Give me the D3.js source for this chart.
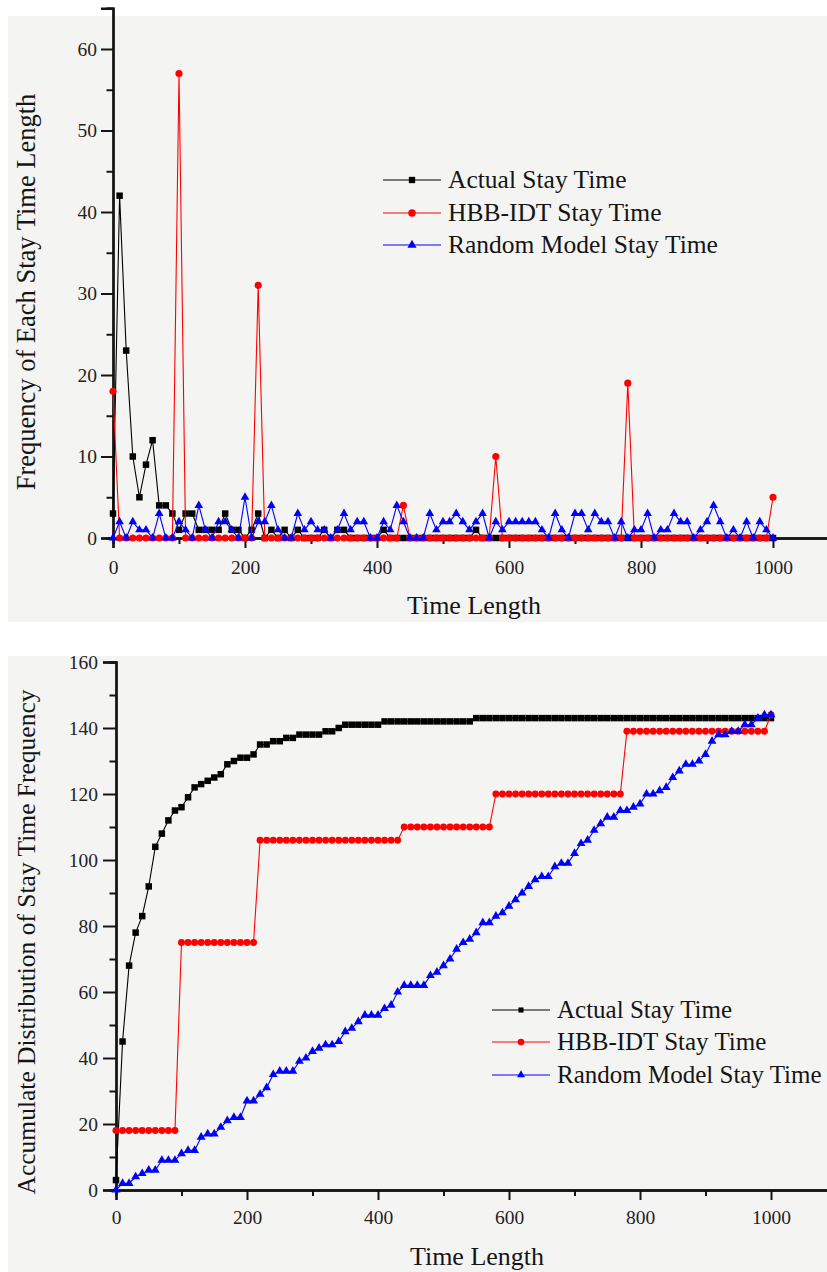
<!DOCTYPE html>
<html>
<head>
<meta charset="utf-8">
<script src="https://cdn.jsdelivr.net/npm/d3@7"></script>
<style>
  body { margin: 0; background: #fff; }
  svg { display: block; }
  svg text { font-family: "Liberation Serif", "DejaVu Serif", "Times New Roman", serif; }
</style>
</head>
<body>
<div id="chart-container"></div>
<script>
// Time lengths (x), one point every 10 units
const timeLength = d3.range(0, 1001, 10);

// Frequency of each stay time length
const actualFreq = [
  3, 42, 23, 10, 5, 9, 12, 4, 4, 3,      // 0-90
  1, 3, 3, 1, 1, 1, 1, 3, 1, 1,          // 100-190
  0, 1, 3, 0, 1, 0, 1, 0, 1, 0,          // 200-290
  0, 0, 1, 0, 1, 1, 0, 0, 0, 0,          // 300-390
  0, 1, 0, 0, 0, 0, 0, 0, 0, 0,          // 400-490
  0, 0, 0, 0, 0, 1, 0, 0, 0, 0,          // 500-590
  0, 0, 0, 0, 0, 0, 0, 0, 0, 0,          // 600-690
  0, 0, 0, 0, 0, 0, 0, 0, 0, 0,          // 700-790
  0, 0, 0, 0, 0, 0, 0, 0, 0, 0,          // 800-890
  0, 0, 0, 0, 0, 0, 0, 0, 0, 0,          // 900-990
  0                                      // 1000
];
const hbbFreq = [
  18, 0, 0, 0, 0, 0, 0, 0, 0, 0,
  57, 0, 0, 0, 0, 0, 0, 0, 0, 0,
  0, 0, 31, 0, 0, 0, 0, 0, 0, 0,
  0, 0, 0, 0, 0, 0, 0, 0, 0, 0,
  0, 0, 0, 0, 4, 0, 0, 0, 0, 0,
  0, 0, 0, 0, 0, 0, 0, 0, 10, 0,
  0, 0, 0, 0, 0, 0, 0, 0, 0, 0,
  0, 0, 0, 0, 0, 0, 0, 0, 19, 0,
  0, 0, 0, 0, 0, 0, 0, 0, 0, 0,
  0, 0, 0, 0, 0, 0, 0, 0, 0, 0,
  5
];
const randomFreq = [
  0, 2, 0, 2, 1, 1, 0, 3, 0, 0,
  2, 1, 0, 4, 1, 0, 2, 2, 1, 0,
  5, 0, 2, 2, 4, 1, 0, 0, 3, 1,
  2, 1, 1, 0, 1, 3, 1, 2, 2, 0,
  0, 2, 1, 4, 2, 0, 0, 0, 3, 1,
  2, 2, 3, 2, 1, 2, 3, 0, 2, 1,
  2, 2, 2, 2, 2, 1, 0, 3, 1, 0,
  3, 3, 1, 3, 2, 2, 0, 2, 0, 1,
  1, 3, 0, 1, 1, 3, 2, 2, 0, 1,
  2, 4, 2, 0, 1, 0, 2, 0, 2, 1,
  0
];

const seriesNames = ["Actual Stay Time", "HBB-IDT Stay Time", "Random Model Stay Time"];
const xMajorTicks = [0, 200, 400, 600, 800, 1000];
const xMinorTicks = [100, 300, 500, 700, 900, 1100];
const topYMajor = [0, 10, 20, 30, 40, 50, 60];
const topYMinor = [5, 15, 25, 35, 45, 55, 65];
const botYMajor = [0, 20, 40, 60, 80, 100, 120, 140, 160];
const botYMinor = [10, 30, 50, 70, 90, 110, 130, 150];

const W = 827, H = 1272;
const ink = "#151515";
const serif = "Liberation Serif, DejaVu Serif, serif";

const svg = d3.select("#chart-container")
  .append("svg")
  .attr("width", W)
  .attr("height", H)
  .attr("font-family", serif);

// faint paper background of the two panels
svg.append("rect").attr("x", 8).attr("y", 16).attr("width", W - 8).attr("height", 606).attr("fill", "#f4f4f2");
svg.append("rect").attr("x", 8).attr("y", 656).attr("width", W - 8).attr("height", H - 656).attr("fill", "#f4f4f2");

const styles = [
  { color: "#000000", symbol: d3.symbolSquare },
  { color: "#ff0000", symbol: d3.symbolCircle },
  { color: "#0000ff", symbol: d3.symbolTriangle }
];

function drawPanel(cfg) {
  const x = d3.scaleLinear().domain([0, 1100]).range([cfg.left, cfg.left + 1100 * cfg.kx]);
  const y = d3.scaleLinear().domain([0, cfg.yMax]).range([cfg.bottom, cfg.top]);
  const g = svg.append("g");

  // axes
  g.append("g").attr("transform", `translate(0,${cfg.bottom})`)
    .call(d3.axisBottom(x).tickValues(xMajorTicks).tickSize(10).tickPadding(cfg.xPad).tickFormat(d3.format("d")));
  g.append("g").attr("transform", `translate(0,${cfg.bottom})`)
    .call(d3.axisBottom(x).tickValues(xMinorTicks).tickSize(6).tickFormat(""));
  g.append("g").attr("transform", `translate(${cfg.left},0)`)
    .call(d3.axisLeft(y).tickValues(cfg.yMajor).tickSize(cfg.yTick).tickPadding(cfg.yPad).tickFormat(d3.format("d")));
  g.append("g").attr("transform", `translate(${cfg.left},0)`)
    .call(d3.axisLeft(y).tickValues(cfg.yMinor).tickSize(6.5).tickFormat(""));

  g.selectAll("g").attr("font-family", serif).attr("font-size", 19.5);
  g.selectAll(".domain").attr("stroke", ink).attr("stroke-width", 2.3);
  g.selectAll(".tick line").attr("stroke", ink).attr("stroke-width", 2);
  g.selectAll(".tick text").attr("fill", "#222");

  // series
  cfg.series.forEach((vals, i) => {
    const pts = timeLength.map((t, j) => [t, vals[j]]);
    const line = d3.line().x(d => x(d[0])).y(d => y(d[1]));
    g.append("path")
      .attr("d", line(pts))
      .attr("fill", "none")
      .attr("stroke", styles[i].color)
      .attr("stroke-width", 1.1);
    g.append("g").selectAll("path")
      .data(pts)
      .enter()
      .append("path")
      .attr("transform", d => `translate(${x(d[0])},${y(d[1])})`)
      .attr("d", d3.symbol().type(styles[i].symbol).size(cfg.sizes[i]))
      .attr("fill", styles[i].color);
  });

  // axis titles
  g.append("text")
    .attr("x", cfg.xTitleX).attr("y", cfg.xTitleY)
    .attr("text-anchor", "middle")
    .attr("fill", ink)
    .attr("font-size", 26)
    .text("Time Length");
  g.append("text")
    .attr("transform", `translate(${cfg.yTitleX},${cfg.yTitleY}) rotate(-90)`)
    .attr("text-anchor", "middle")
    .attr("fill", ink)
    .attr("font-size", cfg.yTitleSize)
    .text(cfg.yTitle);

  // legend
  const lg = g.append("g");
  seriesNames.forEach((name, i) => {
    const ly = cfg.legend.y[i];
    lg.append("line")
      .attr("x1", cfg.legend.x1).attr("x2", cfg.legend.x2)
      .attr("y1", ly).attr("y2", ly)
      .attr("stroke", styles[i].color).attr("stroke-width", 1.2);
    lg.append("path")
      .attr("transform", `translate(${(cfg.legend.x1 + cfg.legend.x2) / 2},${ly})`)
      .attr("d", d3.symbol().type(styles[i].symbol).size(cfg.legend.size[i]))
      .attr("fill", styles[i].color);
    lg.append("text")
      .attr("x", cfg.legend.tx).attr("y", ly)
      .attr("dy", "0.33em")
      .attr("fill", ink)
      .attr("font-size", cfg.legend.font)
      .text(name);
  });
}

// top: frequency of each stay time length
drawPanel({
  left: 113, kx: 0.66, bottom: 538, top: 8.25, yMax: 65,
  yMajor: topYMajor, yMinor: topYMinor, yTick: 12, yPad: 4, xPad: 12,
  series: [actualFreq, hbbFreq, randomFreq],
  sizes: [42, 40, 32],
  xTitleX: 474, xTitleY: 614,
  yTitleX: 35, yTitleY: 292, yTitleSize: 26.5, yTitle: "Frequency of Each Stay Time Length",
  legend: { x1: 383, x2: 441, tx: 448, y: [180, 213, 245], size: [40, 44, 36], font: 25.5 }
});

// bottom: accumulated distribution
drawPanel({
  left: 116, kx: 0.655, bottom: 1190, top: 662, yMax: 160,
  yMajor: botYMajor, yMinor: botYMinor, yTick: 13, yPad: 5, xPad: 10,
  series: [d3.cumsum(actualFreq), d3.cumsum(hbbFreq), d3.cumsum(randomFreq)],
  sizes: [42, 38, 34],
  xTitleX: 477, xTitleY: 1265,
  yTitleX: 35, yTitleY: 942, yTitleSize: 25.5, yTitle: "Accumulate Distribution of Stay Time Frequency",
  legend: { x1: 492, x2: 550, tx: 557, y: [1010, 1042, 1075], size: [26, 34, 28], font: 25 }
});
</script>
</body>
</html>
